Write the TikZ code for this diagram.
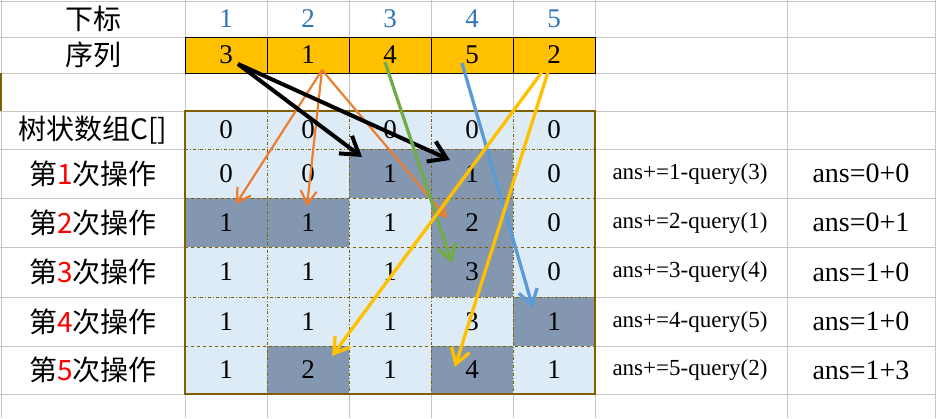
\documentclass[tikz,border=0pt]{standalone}
\usepackage{fontspec}
\setmainfont{Liberation Serif}
\newfontfamily\cjk{Noto Sans CJK SC}
\usetikzlibrary{arrows.meta}
\definecolor{gold}{HTML}{FFC000}
\definecolor{lightcell}{HTML}{DDEBF7}
\definecolor{darkcell}{HTML}{8497B0}
\definecolor{frame}{HTML}{7F6000}
\definecolor{headblue}{HTML}{2E75B6}
\definecolor{arrorange}{HTML}{ED7D31}
\definecolor{arrgreen}{HTML}{70AD47}
\definecolor{arrblue}{HTML}{5B9BD5}
\definecolor{sheetgrid}{HTML}{C6C6C6}
\begin{document}
\begin{tikzpicture}[x=1pt,y=-1pt,
    gridline/.style={draw=sheetgrid,line width=0.9pt},
    inner/.style={draw=frame,line width=0.7pt},
    label/.style={font=\cjk\fontsize{28}{28}\selectfont},
    num/.style={font=\fontsize{27}{27}\selectfont},
    small/.style={font=\fontsize{23}{23}\selectfont},
    big/.style={font=\fontsize{28}{28}\selectfont},
    bigarrow/.style={line width=4pt,-{Straight Barb[length=17pt,width=22pt]}},
    midarrow/.style={line width=3.3pt,-{Straight Barb[length=15pt,width=19pt]}},
    thinarrow/.style={line width=2.2pt,-{Straight Barb[length=13pt,width=16pt]}}]
    \useasboundingbox (0,0) rectangle (936,418);
    \foreach \x in {1.5,185,267,349,431,513,595,787,935} \draw[gridline] (\x,0)--(\x,418);
    \foreach \y in {1,37,73,111,149,198,247,297,346,394} \draw[gridline] (0,\y)--(936,\y);
    \draw[frame,line width=2pt] (1,73)--(1,111);
    \foreach \k in {1,...,5} \draw[fill=gold,line width=1pt] ({185+82*(\k-1)},37) rectangle ({185+82*\k},73);
    \fill[lightcell] (185,111) rectangle (595,394);
    \foreach \c/\ya/\yb in {3/149/198,4/149/198,1/198/247,2/198/247,4/198/247,4/247/297,5/297/346,2/346/394,4/346/394}
        \fill[darkcell] ({185+82*(\c-1)},\ya) rectangle ({185+82*\c},\yb);
    \foreach \x in {267,349,431,513} \draw[inner,dash dot] (\x,111)--(\x,394);
    \foreach \y in {149,297} \draw[inner,dash dot] (185,\y)--(595,\y);
    \foreach \y in {198,247,346} \draw[inner,dashed] (185,\y)--(595,\y);
    \draw[frame,line width=2pt] (185,111) rectangle (595,394);
    \node[label] (head) at (93,19) {下标};
    \node[label] (seq) at (93,55) {序列};
    \node[label] (tree) at (93,130) {树状数组C[]};
    \foreach \k in {1,...,5} \node[num,text=headblue] (h\k) at ({144+82*\k},19) {\k};
    \foreach \v [count=\k] in {3,1,4,5,2} \node[num] (s\k) at ({144+82*\k},55) {\v};
    \foreach \y/\vals [count=\r from 0] in {130/{0,0,0,0,0},173.5/{0,0,1,1,0},222.5/{1,1,1,2,0},272/{1,1,1,3,0},321.5/{1,1,1,3,1},370/{1,2,1,4,1}}
        \foreach \v [count=\k] in \vals \node[num] (c\r-\k) at ({144+82*\k},\y) {\v};
    \foreach \y/\q/\a [count=\r] in {173.5/3/0+0,222.5/1/0+1,272/4/1+0,321.5/5/1+0,370/2/1+3}{
        \node[label] (op\r) at (93,\y) {第\textcolor{red}{\r}次操作};
        \node[small] (q\r) at (690,\y) {ans+=\r-query(\q)};
        \node[big] (a\r) at (861,\y) {ans=\a};
    }
    \coordinate (bt1) at (362,157);
    \coordinate (bt2) at (450,160);
    \coordinate (ot1) at (236,204);
    \coordinate (ot2) at (307,206);
    \coordinate (ot3) at (447,218);
    \coordinate (gt) at (452,263);
    \coordinate (ut) at (533,308);
    \coordinate (yt1) at (332,356);
    \coordinate (yt2) at (455,367);
    \draw[thinarrow,arrorange] ([xshift=14pt,yshift=-15pt]s2.center) -- (ot1);
    \draw[thinarrow,arrorange] ([xshift=14pt,yshift=-15pt]s2.center) -- (ot2);
    \draw[thinarrow,arrorange] ([xshift=14pt,yshift=-15pt]s2.center) -- (ot3);
    \draw[bigarrow,black] ([xshift=12pt,yshift=-9pt]s1.center) -- (bt1);
    \draw[bigarrow,black] ([xshift=12pt,yshift=-9pt]s1.center) -- (bt2);
    \draw[midarrow,arrgreen] ([xshift=-5pt,yshift=-7pt]s3.center) -- (gt);
    \draw[midarrow,arrblue] ([xshift=-10pt,yshift=-8pt]s4.center) -- (ut);
    \draw[midarrow,gold] ([xshift=-12pt,yshift=-17pt]s5.center) -- (yt1);
    \draw[midarrow,gold] ([xshift=-6pt,yshift=-17pt]s5.center) -- (yt2);
\end{tikzpicture}
\end{document}
